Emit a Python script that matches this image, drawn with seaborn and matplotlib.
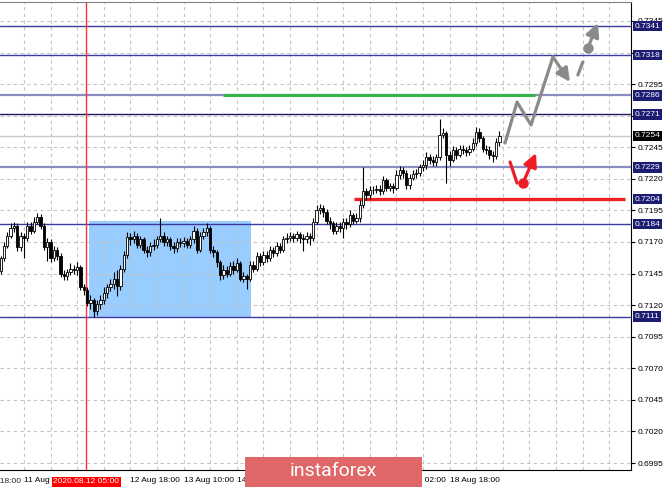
import numpy as np
import pandas as pd
import matplotlib
matplotlib.use("Agg")
import matplotlib.pyplot as plt
import matplotlib.transforms as mtransforms
from matplotlib.patches import Rectangle
import seaborn as sns

# H1 candles, bar 0 = 11 Aug 03:00 ... bar 150 = 19 Aug 09:00
first_open = 0.7147
closes = [0.7157, 0.7167, 0.7175, 0.7181, 0.7183, 0.7166, 0.7175, 0.7173, 0.7183, 0.7179,
          0.7186, 0.7190, 0.7183, 0.7166, 0.7170, 0.7157, 0.7164, 0.7159, 0.7145, 0.7143,
          0.7146, 0.7149, 0.7148, 0.7150, 0.7134, 0.7132, 0.7122, 0.7124, 0.7115, 0.7121,
          0.7124, 0.7130, 0.7134, 0.7137, 0.7141, 0.7135, 0.7149, 0.7160, 0.7174, 0.7172,
          0.7175, 0.7168, 0.7172, 0.7164, 0.7162, 0.7167, 0.7168, 0.7172, 0.7175, 0.7170,
          0.7172, 0.7167, 0.7165, 0.7170, 0.7169, 0.7171, 0.7168, 0.7172, 0.7179, 0.7164,
          0.7175, 0.7178, 0.7181, 0.7164, 0.7162, 0.7154, 0.7144, 0.7148, 0.7145, 0.7151,
          0.7148, 0.7153, 0.7141, 0.7143, 0.7141, 0.7152, 0.7149, 0.7159, 0.7154, 0.7160,
          0.7157, 0.7164, 0.7161, 0.7167, 0.7164, 0.7172, 0.7173, 0.7175, 0.7173, 0.7176,
          0.7173, 0.7172, 0.7175, 0.7173, 0.7186, 0.7195, 0.7197, 0.7194, 0.7187, 0.7185,
          0.7179, 0.7183, 0.7181, 0.7186, 0.7184, 0.7191, 0.7187, 0.7189, 0.7199, 0.7210,
          0.7207, 0.7211, 0.7211, 0.7212, 0.7210, 0.7219, 0.7213, 0.7214, 0.7213, 0.7223,
          0.7227, 0.7225, 0.7215, 0.7221, 0.7224, 0.7225, 0.7229, 0.7231, 0.7237, 0.7235,
          0.7233, 0.7237, 0.7255, 0.7256, 0.7239, 0.7235, 0.7243, 0.7239, 0.7244, 0.7243,
          0.7241, 0.7244, 0.7248, 0.7257, 0.7252, 0.7244, 0.7243, 0.7239, 0.7238, 0.7249,
          0.7254]
highs = [0.7159, 0.7170, 0.7178, 0.7185, 0.7186, 0.7185, 0.7178, 0.7177, 0.7186, 0.7186,
         0.7190, 0.7193, 0.7192, 0.7185, 0.7173, 0.7172, 0.7167, 0.7166, 0.7161, 0.7148,
         0.7149, 0.7153, 0.7152, 0.7154, 0.7152, 0.7137, 0.7134, 0.7128, 0.7126, 0.7124,
         0.7128, 0.7134, 0.7137, 0.7141, 0.7146, 0.7148, 0.7152, 0.7163, 0.7178, 0.7177,
         0.7179, 0.7177, 0.7175, 0.7174, 0.7167, 0.7170, 0.7172, 0.7175, 0.7189, 0.7178,
         0.7175, 0.7174, 0.7170, 0.7173, 0.7173, 0.7174, 0.7173, 0.7175, 0.7183, 0.7181,
         0.7178, 0.7181, 0.7185, 0.7183, 0.7167, 0.7164, 0.7156, 0.7152, 0.7151, 0.7154,
         0.7155, 0.7157, 0.7155, 0.7146, 0.7145, 0.7155, 0.7155, 0.7162, 0.7161, 0.7163,
         0.7163, 0.7167, 0.7166, 0.7170, 0.7169, 0.7175, 0.7177, 0.7178, 0.7177, 0.7179,
         0.7178, 0.7176, 0.7178, 0.7177, 0.7189, 0.7199, 0.7200, 0.7199, 0.7196, 0.7190,
         0.7187, 0.7186, 0.7186, 0.7189, 0.7189, 0.7195, 0.7193, 0.7193, 0.7203, 0.7229,
         0.7213, 0.7214, 0.7214, 0.7215, 0.7215, 0.7222, 0.7221, 0.7217, 0.7217, 0.7227,
         0.7230, 0.7229, 0.7227, 0.7224, 0.7227, 0.7228, 0.7232, 0.7235, 0.7241, 0.7240,
         0.7238, 0.7240, 0.7267, 0.7260, 0.7258, 0.7242, 0.7246, 0.7245, 0.7247, 0.7247,
         0.7245, 0.7247, 0.7252, 0.7261, 0.7260, 0.7254, 0.7247, 0.7246, 0.7242, 0.7252,
         0.7258]
lows = [0.7145, 0.7155, 0.7165, 0.7173, 0.7178, 0.7163, 0.7163, 0.7157, 0.7171, 0.7176,
        0.7177, 0.7184, 0.7180, 0.7164, 0.7155, 0.7154, 0.7155, 0.7156, 0.7142, 0.7140,
        0.7140, 0.7144, 0.7145, 0.7144, 0.7132, 0.7128, 0.7119, 0.7117, 0.7111, 0.7112,
        0.7117, 0.7121, 0.7126, 0.7131, 0.7133, 0.7127, 0.7132, 0.7146, 0.7157, 0.7168,
        0.7169, 0.7165, 0.7165, 0.7161, 0.7158, 0.7159, 0.7164, 0.7165, 0.7170, 0.7167,
        0.7167, 0.7164, 0.7161, 0.7162, 0.7166, 0.7166, 0.7165, 0.7165, 0.7169, 0.7161,
        0.7162, 0.7172, 0.7175, 0.7161, 0.7158, 0.7150, 0.7140, 0.7141, 0.7142, 0.7143,
        0.7145, 0.7146, 0.7139, 0.7138, 0.7133, 0.7139, 0.7146, 0.7147, 0.7151, 0.7152,
        0.7154, 0.7155, 0.7158, 0.7159, 0.7161, 0.7162, 0.7169, 0.7171, 0.7170, 0.7171,
        0.7169, 0.7163, 0.7169, 0.7168, 0.7171, 0.7184, 0.7192, 0.7190, 0.7184, 0.7180,
        0.7176, 0.7176, 0.7178, 0.7173, 0.7180, 0.7182, 0.7184, 0.7185, 0.7186, 0.7197,
        0.7203, 0.7204, 0.7208, 0.7209, 0.7207, 0.7208, 0.7210, 0.7210, 0.7209, 0.7211,
        0.7220, 0.7221, 0.7212, 0.7212, 0.7219, 0.7221, 0.7222, 0.7226, 0.7228, 0.7232,
        0.7230, 0.7230, 0.7235, 0.7252, 0.7217, 0.7230, 0.7233, 0.7236, 0.7237, 0.7240,
        0.7238, 0.7239, 0.7242, 0.7246, 0.7249, 0.7241, 0.7240, 0.7236, 0.7233, 0.7236,
        0.7246]

# levels
blue_levels = [0.7341, 0.7318, 0.7184, 0.7111]
light_levels = [0.7286, 0.7229]
dark_levels = [0.7271]
boxed_labels = [0.7341, 0.7318, 0.7286, 0.7271, 0.7229, 0.7204, 0.7184, 0.7111]
current_price = 0.7254
grid_prices = [0.6995, 0.7020, 0.7045, 0.7070, 0.7095, 0.7120, 0.7145, 0.7170,
               0.7195, 0.7220, 0.7245, 0.7270, 0.7295, 0.7320, 0.7345]
hidden_prices = [0.7270, 0.7320]  # covered by level boxes

# time axis
label_bars = [7, 23, 39, 55, 71, 87, 103, 119, 135]
label_texts = ["11 Aug 10:00", "", "12 Aug 18:00", "13 Aug 10:00",
               "14 Aug 02:00", "14 Aug 18:00", "17 Aug 10:00", "18 Aug 02:00",
               "18 Aug 18:00"]
grid_bars = [7, 15, 23, 31, 39, 47, 55, 63, 71, 79, 87, 95, 103, 111, 119, 127,
             135, 143, 151, 159, 167, 175, 183]
marker_bar = 25.8
marker_text = "2020.08.12 05:00"

# drawn objects
zone_bars = [26.6, 75.3]
zone_prices = [0.7111, 0.7187]
green_bars = [66.8, 160.7]
green_price = 0.7286
red_bars = [106.3, 187.8]
red_price = 0.7204

gray_path_x = [151.7, 155.3, 159.5, 166.1]
gray_path_y = [0.72484, 0.72808, 0.72626, 0.73165]
gray_arrow = [(166.1, 0.73165), (171.2, 0.72967)]
gray_dash = [(173.6, 0.73022), (175.1, 0.73125)]
gray_dot = (176.6, 0.73236)
gray_up = (179.6, 0.73434)
red_path_x = [153.2, 155.3]
red_path_y = [0.72333, 0.72167]
red_dot = (157.1, 0.72167)
red_up = (161.0, 0.72404)

df = pd.DataFrame({"close": closes, "high": highs, "low": lows})
df["open"] = [first_open] + closes[:-1]
df["bar"] = np.arange(len(df))

sns.set_style("white")
plt.rcParams['font.family'] = ['Liberation Sans', 'DejaVu Sans']

fig = plt.figure(figsize=(6.65, 4.87), dpi=100)
ax = fig.add_axes([0.0, 17 / 487, 631 / 665, 468 / 487])
ax.set_xlim(-0.2, -0.2 + 631 / 3.325)
ax.set_ylim(0.69895, 0.73600)

# zone rectangle
ax.add_patch(Rectangle((zone_bars[0], zone_prices[0]), zone_bars[1] - zone_bars[0],
                       zone_prices[1] - zone_prices[0], facecolor="#99CCFF",
                       edgecolor="none", zorder=0.5))

# grid
for gp in grid_prices:
    ax.axhline(gp, color="#c4c4c4", lw=0.8, ls=(0, (3, 3)), zorder=1)
for gb in grid_bars:
    ax.axvline(gb, color="#c4c4c4", lw=0.8, ls=(0, (3, 3)), zorder=1)

# levels
for lv in blue_levels:
    ax.axhline(lv, color="#3c3ca0", lw=1.0, zorder=1.5)
for lv in light_levels:
    ax.axhline(lv, color="#8c8cc4", lw=1.6, zorder=1.5)
for lv in dark_levels:
    ax.axhline(lv, color="#1a1a60", lw=1.0, zorder=1.5)
ax.axhline(current_price, color="#c8c8c8", lw=1.0, zorder=1.5)
ax.plot(green_bars, [green_price, green_price], color="#33b54a", lw=2.2, zorder=2,
        solid_capstyle="butt")
ax.plot(red_bars, [red_price, red_price], color="#ee2020", lw=2.4, zorder=2,
        solid_capstyle="butt")
ax.axvline(marker_bar, color="#ff3030", lw=1.0, zorder=2)

# candles
ax.vlines(df["bar"], df["low"], df["high"], color="black", lw=0.8, zorder=3)
bull = df["close"] >= df["open"]
body = (df["close"] - df["open"]).abs().clip(lower=0.00005)
ax.bar(df["bar"], body, bottom=df[["open", "close"]].min(axis=1), width=0.7,
       color=np.where(bull, "white", "black"), edgecolor="black", linewidth=0.6,
       zorder=4)

# forecast drawings
head = "-|>,head_length=0.8,head_width=0.4"
sns.lineplot(x=gray_path_x, y=gray_path_y, sort=False, ax=ax, color="#8a8a8a",
             lw=2.3, zorder=5)
ax.annotate("", xy=gray_arrow[1], xytext=gray_arrow[0],
            arrowprops=dict(arrowstyle=head, color="#8a8a8a", lw=2.3,
                            shrinkA=0, shrinkB=0), zorder=5)
ax.plot([gray_dash[0][0], gray_dash[1][0]], [gray_dash[0][1], gray_dash[1][1]],
        color="#8a8a8a", lw=2.3, zorder=5)
ax.plot(*gray_dot, "o", color="#8a8a8a", ms=6.5, zorder=5)
ax.annotate("", xy=gray_up, xytext=gray_dot,
            arrowprops=dict(arrowstyle=head, color="#8a8a8a", lw=2.3,
                            shrinkA=0, shrinkB=0), zorder=5)
sns.lineplot(x=red_path_x, y=red_path_y, sort=False, ax=ax, color="#ee1c25",
             lw=2.3, zorder=5)
ax.plot(*red_dot, "o", color="#ee1c25", ms=6.5, zorder=5)
ax.annotate("", xy=red_up, xytext=red_dot,
            arrowprops=dict(arrowstyle=head, color="#ee1c25", lw=2.3,
                            shrinkA=0, shrinkB=0), zorder=5)

# axes styling
ax.spines["left"].set_visible(False)
ax.spines["top"].set_color("#808080")
ax.spines["right"].set_color("black")
ax.spines["bottom"].set_color("black")
ax.yaxis.tick_right()
ax.set_yticks(grid_prices)
ax.set_yticklabels(["" if p in hidden_prices else f"{p:.4f}" for p in grid_prices])
ax.tick_params(axis="y", length=3, width=0.8, pad=2, labelsize=6, colors="black")
ax.set_xticks(label_bars)
ax.set_xticklabels(label_texts)
for lab in ax.get_xticklabels():
    lab.set_horizontalalignment("left")
ax.tick_params(axis="x", length=3, width=0.8, pad=2, labelsize=6, colors="black")
ax.set_ylabel("")
ax.set_xlabel("")
xtrans = mtransforms.blended_transform_factory(ax.transData, ax.transAxes)
ax.text(-9, -0.018, "10 Aug 18:00", fontsize=6, ha="left", va="top",
        transform=xtrans, clip_on=False)

# price boxes
ytrans = mtransforms.blended_transform_factory(ax.transAxes, ax.transData)
for lv in boxed_labels:
    ax.text(1.006, lv, f"{lv:.4f}", transform=ytrans, fontsize=6, color="white",
            va="center", ha="left", clip_on=False, zorder=10,
            bbox=dict(boxstyle="square,pad=0.2", fc="#1c1c72", ec="none"))
ax.text(1.006, current_price, f"{current_price:.4f}", transform=ytrans, fontsize=6,
        color="white", va="center", ha="left", clip_on=False, zorder=10,
        bbox=dict(boxstyle="square,pad=0.2", fc="black", ec="none"))

# time marker label
ax.text(marker_bar, -0.018, marker_text, fontsize=6, color="white", ha="center",
        va="top", clip_on=False, zorder=10, transform=xtrans,
        bbox=dict(boxstyle="square,pad=0.2", fc="#ff0000", ec="none"))

# watermark
fig.patches.append(Rectangle((245 / 665, 0), 177 / 665, 30 / 487,
                             transform=fig.transFigure, facecolor="#e06767",
                             edgecolor="none", zorder=20))
fig.text(333 / 665, 16 / 487, "instaforex", color="white", fontsize=14,
         family=["Roboto", "DejaVu Sans"], ha="center", va="center", zorder=21)

plt.savefig("out.png", dpi=100)
